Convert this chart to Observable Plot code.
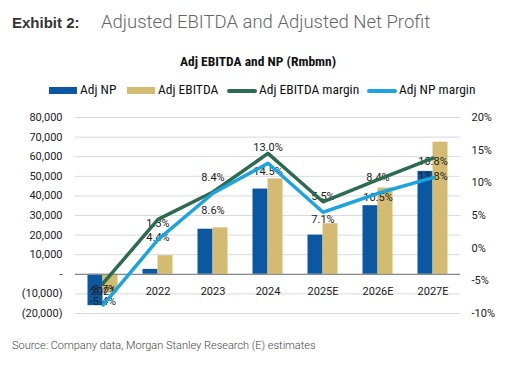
<!DOCTYPE html>
<html><head><meta charset="utf-8">
<script src="https://cdn.jsdelivr.net/npm/d3@7"></script>
<script src="https://cdn.jsdelivr.net/npm/@observablehq/plot@0.6"></script>
<style>
body{margin:0;background:#fff;width:522px;height:369px;position:relative;overflow:hidden;font-family:Roboto,sans-serif;}
.abs{position:absolute;white-space:nowrap;line-height:1;}
.narrow{font-family:"Liberation Sans Narrow","Roboto Condensed",Roboto,sans-serif;}
#chart{position:absolute;left:0;top:100px;}
</style></head><body>
<div class="abs" style="left:12px;top:14.6px;font-family:'Liberation Sans',Arial,sans-serif;font-weight:bold;font-size:15px;color:#333">Exhibit 2:</div>
<div class="abs" style="left:101px;top:12.7px;font-family:Roboto,sans-serif;font-weight:300;font-size:18.5px;color:#666">Adjusted EBITDA and Adjusted Net Profit</div>
<div class="abs narrow" id="sub" style="left:258px;top:54.5px;transform:translateX(-50%);font-weight:bold;font-size:13.5px;color:#111">Adj EBITDA and NP (Rmbmn)</div>
<div id="legend"></div>
<div id="chart"></div>
<div class="abs" style="left:12px;top:339.7px;font-family:Roboto,sans-serif;font-weight:300;font-size:11px;color:#444">Source: Company data, Morgan Stanley Research (E) estimates</div>
<script>
const categories = ["2021", "2022", "2023", "2024", "2025E", "2026E", "2027E"];
const adjNP = [-16000, 2500, 23000, 43500, 20000, 35000, 52500];
const adjEBITDA = [-9700, 9500, 23700, 48700, 25800, 44000, 67400];
const ebitdaMargin = [-5.4, 4.4, 8.6, 14.5, 7.1, 10.5, 13.8];
const npMargin = [-8.7, 1.3, 8.4, 13.0, 5.5, 8.4, 10.8];
const leftTicks = [-20000, -10000, 0, 10000, 20000, 30000, 40000, 50000, 60000, 70000, 80000];
const rightTicks = [-10, -5, 0, 5, 10, 15, 20];
const seriesNames = ["Adj NP", "Adj EBITDA", "Adj EBITDA margin", "Adj NP margin"];
const seriesColors = ["#0B57A2", "#D3BC72", "#2C6B4F", "#1CA4E0"];

// map the right (%) axis onto the left axis domain
const toY = p => -20000 + (p + 10) * 100000 / 30;
const fromY = v => Math.round((v + 20000) * 30 / 100000 - 10);
const fmtLeft = v => v === 0 ? "-" : v < 0 ? "(" + d3.format(",")(-v) + ")" : d3.format(",")(v);

const data = categories.map((c, i) => ({cat: c, np: adjNP[i], eb: adjEBITDA[i], em: ebitdaMargin[i], nm: npMargin[i]}));

const chart = Plot.plot({
  width: 522, height: 225,
  marginLeft: 75, marginRight: 62, marginTop: 17, marginBottom: 12,
  style: {fontFamily: "Roboto, sans-serif", fontSize: "11px", color: "#222", background: "transparent", overflow: "visible"},
  x: {type: "band", domain: categories, padding: 0, axis: null},
  y: {domain: [-20000, 80000], axis: null},
  marks: [
    Plot.gridY(leftTicks, {stroke: "#d9d9d9", strokeOpacity: 1, strokeWidth: 1}),
    Plot.axisY(leftTicks, {anchor: "left", tickSize: 0, tickPadding: 13, tickFormat: fmtLeft, label: null, fill: "#222", fontSize: 11}),
    Plot.axisY(rightTicks.map(toY), {anchor: "right", tickSize: 0, tickPadding: 11, tickFormat: v => fromY(v) + "%", label: null, fill: "#222", fontSize: 11}),
    Plot.barY(data, {x: "cat", y1: 0, y2: "np", fill: seriesColors[0], insetLeft: 12.5, insetRight: 27.5}),
    Plot.barY(data, {x: "cat", y1: 0, y2: "eb", fill: seriesColors[1], insetLeft: 27.5, insetRight: 12.5}),
    Plot.ruleY([0], {stroke: "#8a8a8a", strokeWidth: 1.3}),
    Plot.text(data, {x: "cat", y: () => 0, text: "cat", dy: 17.5, fill: "#222", fontSize: 11}),
    Plot.text(data, {x: "cat", y: d => toY(d.nm), text: d => d.nm.toFixed(1) + "%", dy: -16, fill: "#222", fontSize: 11}),
    Plot.text(data, {x: "cat", y: d => toY(d.em), text: d => d.em.toFixed(1) + "%", dy: 18, fill: "#222", fontSize: 11}),
    Plot.line(data, {x: "cat", y: d => toY(d.em), stroke: seriesColors[2], strokeWidth: 3.5, strokeLinejoin: "round"}),
    Plot.line(data, {x: "cat", y: d => toY(d.nm), stroke: seriesColors[3], strokeWidth: 3.5, strokeLinejoin: "round"})
  ]
});
document.getElementById("chart").appendChild(chart);

// legend
const leg = document.getElementById("legend");
const swX = [49, 127, 227, 367];
const txX = [80, 158, 259, 399];
seriesNames.forEach((name, i) => {
  const sw = document.createElement("div");
  sw.className = "abs";
  const isLine = i >= 2;
  sw.style.cssText = `left:${swX[i]}px;top:${isLine ? 88.5 : 87}px;width:${isLine ? 30 : 28}px;height:${isLine ? 4 : 7}px;background:${seriesColors[i]};border-radius:${isLine ? 2 : 0}px;`;
  leg.appendChild(sw);
  const t = document.createElement("div");
  t.className = "abs narrow";
  t.style.cssText = `left:${txX[i]}px;top:82.5px;font-size:13.5px;color:#111;`;
  t.textContent = name;
  leg.appendChild(t);
});
</script>
</body></html>
